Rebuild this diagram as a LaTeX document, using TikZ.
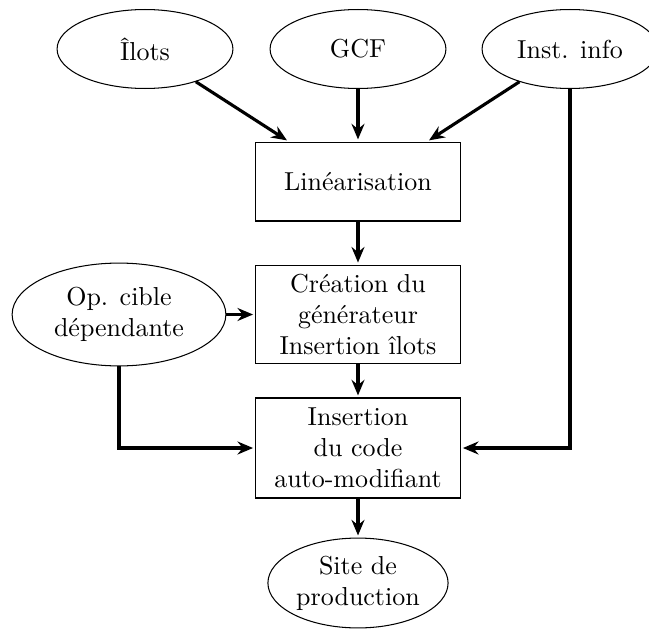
\documentclass[tikz,border=0pt]{standalone}
\usetikzlibrary{shapes.geometric,arrows.meta}

\tikzset{every picture/.style={line width=0.4pt}}
\tikzset{
  bulle/.style={draw,ellipse,align=center,minimum width=67.7pt,minimum height=30.4pt,inner sep=0.75pt},
  etape/.style={draw,rectangle,align=center,minimum width=78.8pt,inner sep=0.75pt},
  fleche/.style={line width=1.2pt,-{Stealth[length=6pt,width=5pt,inset=2pt]},shorten >=0.8pt}
}

\begin{document}
\begin{tikzpicture}[x=0.385pt,y=0.385pt,yscale=-1]
%set diagram left start at 0, and has height of 630
\useasboundingbox (0,0) rectangle (649,630);

%Ellipses (inputs)
\node [bulle] (ilots) at (145,49) {Îlots};
\node [bulle] (gcf) at (358,49) {GCF};
\node [bulle] (inst) at (570,49) {Inst. info};
\node [bulle,minimum width=82.3pt,minimum height=39.6pt] (opcible) at (119,314.5) {Op. cible\\dépendante};

%Boxes (steps)
\node [etape,minimum height=30.4pt] (lin) at (358,181.5) {Linéarisation};
\node [etape,minimum height=38pt] (gen) at (358,314.5) {Création du\\générateur\\Insertion îlots};
\node [etape,minimum height=38.5pt] (insert) at (358,448) {Insertion\\du code\\auto-modifiant};

%Ellipse (output)
\node [bulle,minimum width=68pt,minimum height=34.6pt] (site) at (358,583) {Site de\\production};

%Arrows
\draw [fleche] (ilots) -- (lin.150);
\draw [fleche] (gcf) -- (lin);
\draw [fleche] (inst) -- (lin.30);
\draw [fleche] (lin) -- (gen);
\draw [fleche] (opcible) -- (gen);
\draw [fleche] (gen) -- (insert);
\draw [fleche] (opcible) |- (insert);
\draw [fleche] (inst) |- (insert);
\draw [fleche] (insert) -- (site);
\end{tikzpicture}
\end{document}
